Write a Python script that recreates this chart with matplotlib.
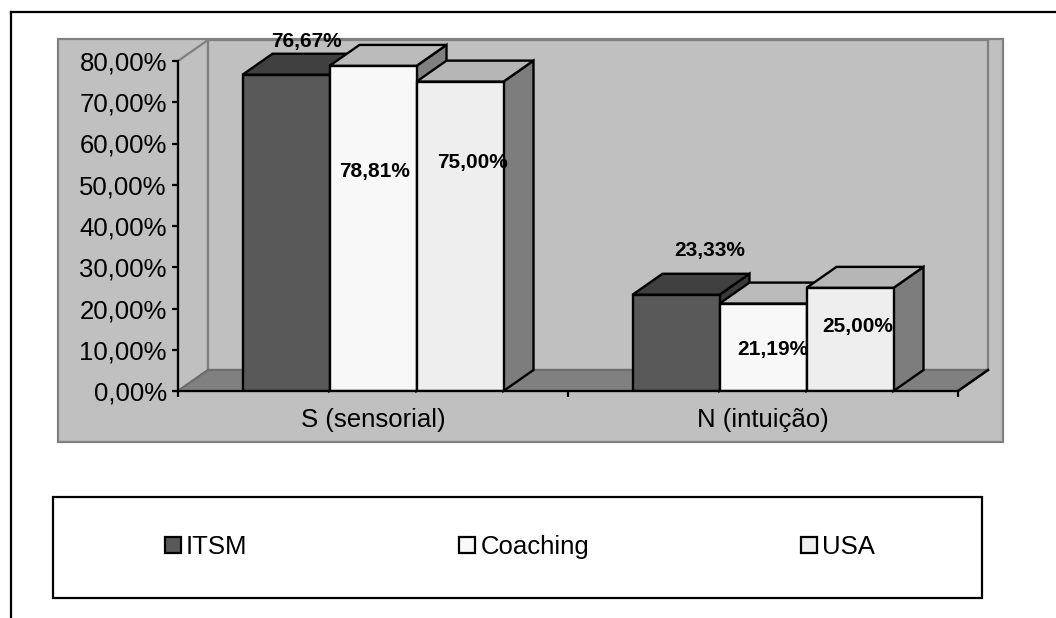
import matplotlib
matplotlib.use("Agg")
import matplotlib.pyplot as plt
from matplotlib.patches import Polygon, Rectangle, Patch
from matplotlib.lines import Line2D

plt.rcParams["font.family"] = ["Liberation Sans", "DejaVu Sans"]

# ---- data ----
categories = ["S (sensorial)", "N (intuição)"]
series_names = ["ITSM", "Coaching", "USA"]
itsm = [76.67, 23.33]
coaching = [78.81, 21.19]
usa = [75.00, 25.00]
y_ticks = [0, 10, 20, 30, 40, 50, 60, 70, 80]
y_ticklabels = ["0,00%", "10,00%", "20,00%", "30,00%", "40,00%",
                "50,00%", "60,00%", "70,00%", "80,00%"]

# ---- styling ----
front_colors = ["#595959", "#F8F8F8", "#EEEEEE"]
top_colors = ["#404040", "#BBBBBB", "#B6B6B6"]
side_colors = ["#3A3A3A", "#808080", "#7D7D7D"]
# label offsets in pixels from the top-front centre of each bar
label_offsets = {
    0: [(20, 33), (34, 44)],
    1: [(2, -106), (10, -46)],
    2: [(13, -81), (8, -39)],
}

W, H = 1056, 618
fig = plt.figure(figsize=(W / 100, H / 100), dpi=100, facecolor="white")


def fx(px):
    return px / W


def fy(py):
    return 1 - py / H


# outer frame (top and left edges)
fig.add_artist(Line2D([fx(11), 1.0], [fy(12), fy(12)], color="black", lw=1.6,
                      transform=fig.transFigure))
fig.add_artist(Line2D([fx(11), fx(11)], [fy(12), 0.0], color="black", lw=1.6,
                      transform=fig.transFigure))

# grey chart area
fig.add_artist(Rectangle((fx(58), fy(442)), (1003 - 58) / W, (442 - 39) / H,
                         transform=fig.transFigure, facecolor="#C0C0C0",
                         edgecolor="#808080", lw=1.6, zorder=-5))

# legend box
fig.add_artist(Rectangle((fx(53), fy(598)), (982 - 53) / W, (598 - 497) / H,
                         transform=fig.transFigure, facecolor="white",
                         edgecolor="black", lw=1.6, zorder=-4))

ax = fig.add_axes([fx(178), fy(391), (958 - 178) / W, (391 - 61) / H])
ax.set_xlim(0, 2)
ax.set_ylim(0, 80)
ax.patch.set_visible(False)

px_per_x = (958 - 178) / 2.0
px_per_y = (391 - 61) / 80.0
DX = 30 / px_per_x
DY = 21 / px_per_y

# walls and floor
side_wall = Polygon([(0, 0), (DX, DY), (DX, 80 + DY), (0, 80)], closed=True,
                    facecolor="#C0C0C0", edgecolor="#808080", lw=1.6,
                    clip_on=False, zorder=0.5)
back_wall = Polygon([(DX, DY), (2 + DX, DY), (2 + DX, 80 + DY), (DX, 80 + DY)],
                    closed=True, facecolor="#C0C0C0", edgecolor="#808080",
                    lw=1.6, clip_on=False, zorder=0.5)
floor = Polygon([(0, 0), (2, 0), (2 + DX, DY), (DX, DY)], closed=True,
                facecolor="#808080", edgecolor="#6E6E6E", lw=1.6,
                clip_on=False, zorder=0.6)
for p in (side_wall, back_wall, floor):
    ax.add_patch(p)
ax.plot([2, 2 + DX], [0, DY], color="black", lw=1.8, clip_on=False, zorder=0.7)

# bars with 3-D faces
values = [itsm, coaching, usa]
n = len(series_names)
BW = 87 / px_per_x
centers = [i + 0.5 for i in range(len(categories))]
for s in range(n):
    xs = [c + (s - (n - 1) / 2) * BW for c in centers]
    z = 3 + s
    ax.bar(xs, values[s], width=BW, color=front_colors[s], edgecolor="black",
           lw=1.7, zorder=z + 0.2)
    for x, v in zip(xs, values[s]):
        l, r = x - BW / 2, x + BW / 2
        top = Polygon([(l, v), (r, v), (r + DX, v + DY), (l + DX, v + DY)],
                      closed=True, facecolor=top_colors[s], edgecolor="black",
                      lw=1.7, joinstyle="miter", clip_on=False, zorder=z)
        side = Polygon([(r, 0), (r + DX, DY), (r + DX, v + DY), (r, v)],
                       closed=True, facecolor=side_colors[s], edgecolor="black",
                       lw=1.7, joinstyle="miter", clip_on=False, zorder=z)
        ax.add_patch(side)
        ax.add_patch(top)
    for k, (x, v) in enumerate(zip(xs, values[s])):
        ox, oy = label_offsets[s][k]
        ax.annotate(f"{v:.2f}%".replace(".", ","), xy=(x, v),
                    xytext=(ox, oy), textcoords="offset pixels",
                    ha="center", va="center", fontsize=15,
                    fontweight="bold", zorder=20, annotation_clip=False)

# axes
for side_name in ("top", "right"):
    ax.spines[side_name].set_visible(False)
for side_name in ("left", "bottom"):
    ax.spines[side_name].set_linewidth(1.6)
    ax.spines[side_name].set_color("black")
    ax.spines[side_name].set_zorder(10)

ax.set_yticks(y_ticks)
ax.set_yticklabels(y_ticklabels)
ax.tick_params(axis="y", direction="out", length=4.5, width=1.6, pad=3.5,
               labelsize=18.5)
ax.set_xticks([0, 1, 2])
ax.set_xticklabels(["", "", ""])
ax.tick_params(axis="x", which="major", direction="out", length=4.5, width=1.6)
ax.set_xticks(centers, minor=True)
ax.set_xticklabels(categories, minor=True)
ax.tick_params(axis="x", which="minor", length=0, pad=12, labelsize=18.5)

# legend
handles = [Patch(facecolor=c, edgecolor="black", lw=1.6) for c in front_colors]
fig.legend(handles, series_names, loc="center",
           bbox_to_anchor=(fx(520), fy(547)), ncol=3, frameon=False,
           fontsize=18.5, handlelength=0.62, handleheight=0.62,
           handletextpad=0.2, columnspacing=8.25)

fig.savefig("out.png", dpi=100, facecolor="white")
